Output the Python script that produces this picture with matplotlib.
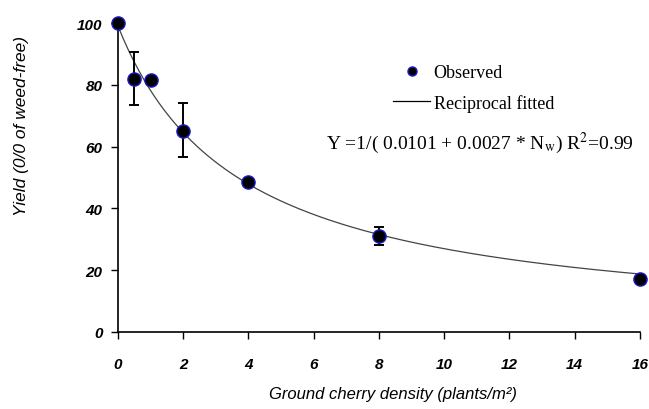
import numpy as np
import matplotlib

matplotlib.use('Agg')
import matplotlib.pyplot as plt
from matplotlib.lines import Line2D

# observed yield (% of weed-free) at each ground cherry density
density = [0, 0.5, 1, 2, 4, 8, 16]
yield_obs = [100, 82, 81.5, 65, 48.5, 31, 17]
err_lo = [0, 8.5, 0, 8.5, 0, 3, 0]
err_hi = [0, 8.5, 0, 9, 0, 3, 0]

# reciprocal model coefficients
a_coef = 0.0101
b_coef = 0.0027

x_ticks = [0, 2, 4, 6, 8, 10, 12, 14, 16]
y_ticks = [0, 20, 40, 60, 80, 100]

plt.rcParams['mathtext.fontset'] = 'stix'

fig = plt.figure(figsize=(6.49, 4.10), dpi=100)
ax = fig.add_axes((118 / 649, 77 / 410, 522 / 649, 309 / 410))

# fitted curve
xf = np.linspace(0, 16, 200)
ax.plot(xf, 1 / (a_coef + b_coef * xf), color='#444444', lw=0.9, zorder=2)

# error bars then markers
ax.errorbar(density, yield_obs, yerr=[err_lo, err_hi], fmt='none', ecolor='black',
            elinewidth=1.4, capsize=3.3, capthick=1.4, zorder=3, clip_on=False)
ax.plot(density, yield_obs, 'o', ms=9.5, mfc='black', mec='#1a1acc', mew=1.0,
        zorder=4, clip_on=False)

ax.set_xlim(0, 16)
ax.set_ylim(0, 100)
ax.set_xticks(x_ticks)
ax.set_yticks(y_ticks)
ax.spines['top'].set_visible(False)
ax.spines['right'].set_visible(False)
for s in ('left', 'bottom'):
    ax.spines[s].set_linewidth(1.2)
ax.tick_params(axis='both', direction='out', length=5, width=1, labelsize=11)
ax.tick_params(axis='x', pad=13)
ax.tick_params(axis='y', pad=6)
for lab in ax.get_xticklabels() + ax.get_yticklabels():
    lab.set_family('Liberation Sans')
    lab.set_style('italic')
    lab.set_weight('bold')

fig.text(393 / 649, 1 - 395 / 410, 'Ground cherry density (plants/m²)', family='Liberation Sans',
         style='italic', fontsize=12, ha='center', va='center')
fig.text(22 / 649, 1 - 126 / 410, 'Yield (0/0 of weed-free)', family='Liberation Sans',
         style='italic', fontsize=12.5, rotation=90, ha='center', va='center')

# legend
handles = [Line2D([], [], ls='none', marker='o', ms=6.5, mfc='black', mec='#1a1acc'),
           Line2D([], [], color='black', lw=0.9)]
leg = ax.legend(handles, ['Observed', 'Reciprocal fitted'], loc='upper left',
                bbox_to_anchor=(384 / 649, 1 - 56 / 410), bbox_transform=fig.transFigure,
                frameon=False, prop={'family': 'Liberation Serif', 'size': 13},
                handlelength=2.05, handletextpad=0.2, labelspacing=0.7, borderpad=0)

fig.text(326 / 649, 1 - 149 / 410, r'Y =1/( 0.0101 + 0.0027 * N$_{\mathrm{w}}$) R$^{2}$=0.99',
         family='Liberation Serif', fontsize=14, ha='left', va='baseline')

plt.savefig('out.png', dpi=100)
